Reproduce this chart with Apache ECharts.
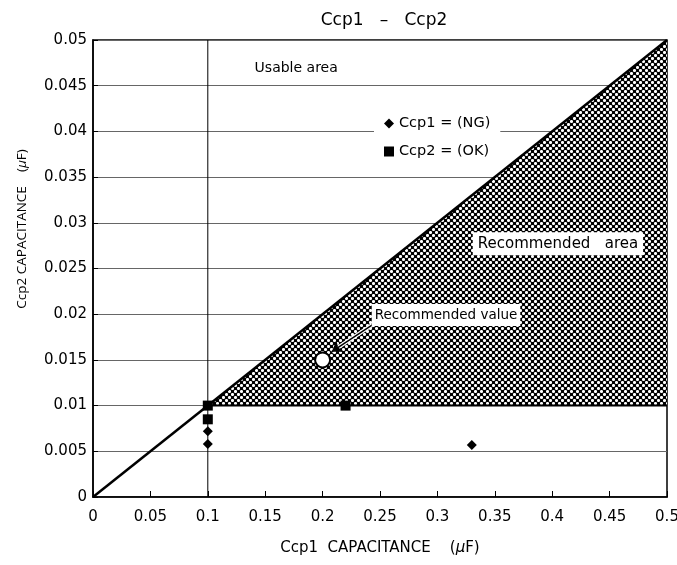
<!DOCTYPE html>
<html><head><meta charset="utf-8">
<script src="https://cdn.jsdelivr.net/npm/echarts@6/dist/echarts.min.js"></script>
<style>html,body{margin:0;padding:0;background:#fff}#c{width:677px;height:565px}</style>
</head><body><div id="c"></div>
<script>
var xTicks = [0,0.05,0.1,0.15,0.2,0.25,0.3,0.35,0.4,0.45,0.5];
var yTicks = [0,0.005,0.01,0.015,0.02,0.025,0.03,0.035,0.04,0.045,0.05];
var ngX = [0.1, 0.1, 0.33];
var ngY = [0.0072, 0.0058, 0.0057];
var okX = [0.1, 0.1, 0.22];
var okY = [0.01, 0.0085, 0.01];
var recValue = [0.2, 0.015];
var limitLineX = [0, 0.5];
var limitLineY = [0, 0.05];
var regionX = [0.1, 0.5, 0.5];
var regionY = [0.01, 0.05, 0.01];
var minCcp1 = 0.1;
var minCcp2 = 0.01;
var arrowFrom = [0.243, 0.0188];
var arrowTo = [0.208, 0.0159];

var WIDE = 'DejaVu Sans';
var NARROW = 'Open Sans';

// crosshatch pattern, pixel based
var P = 6;
var pc = document.createElement('canvas');
pc.width = P; pc.height = P;
var g = pc.getContext('2d');
var img = g.createImageData(P, P);
var centers = [[1,1],[4,4]];
for (var yy = 0; yy < P; yy++) for (var xx = 0; xx < P; xx++) {
  var c = 0;
  centers.forEach(function(cc){
    for (var ox = -P; ox <= P; ox += P) for (var oy = -P; oy <= P; oy += P) {
      var dx = Math.abs(xx - cc[0] - ox), dy = Math.abs(yy - cc[1] - oy);
      if (dx <= 1 && dy <= 1) {
        var v = (dx + dy <= 1) ? 255 : 170;
        if (v > c) c = v;
      }
    }
  });
  var k = (yy * P + xx) * 4;
  img.data[k] = img.data[k+1] = img.data[k+2] = c; img.data[k+3] = 255;
}
g.putImageData(img, 0, 0);

function fmt(v){ return String(+v.toFixed(3)); }

var chart = echarts.init(document.getElementById('c'));
chart.setOption({
  animation: false,
  title: { text: 'Ccp1   –   Ccp2', left: 379, textAlign: 'center', top: 7,
    textStyle: { fontFamily: WIDE, fontSize: 17, fontWeight: 'normal', color: '#000' } },
  grid: { left: 93, right: 10, top: 40, bottom: 68, outerBoundsMode: 'none', containLabel: false,
    show: true, borderColor: '#000', borderWidth: 1.5, backgroundColor: 'transparent' },
  legend: {
    orient: 'vertical', left: 374, top: 111, backgroundColor: '#fff', padding: [5,10,5,10],
    itemGap: 13, itemWidth: 10, itemHeight: 10,
    textStyle: { fontFamily: WIDE, fontSize: 14.5, color: '#000' },
    data: [{ name: 'Ccp1 = (NG)', icon: 'diamond' }, { name: 'Ccp2 = (OK)', icon: 'rect' }]
  },
  graphic: [{
    type: 'text', x: 22, y: 229, rotation: Math.PI / 2, z: 10,
    style: { text: 'Ccp2 CAPACITANCE    ({i|μ}F)', align: 'center', verticalAlign: 'middle',
      font: '13.5px "Open Sans"', fill: '#000',
      rich: { i: { fontStyle: 'italic', fontFamily: NARROW, fontSize: 13.5, color: '#000' } } }
  }],
  xAxis: {
    type: 'value', min: 0, max: 0.5, interval: 0.05,
    name: 'Ccp1  CAPACITANCE    ({i|μ}F)', nameLocation: 'middle', nameGap: 44,
    nameTextStyle: { fontFamily: WIDE, fontSize: 15, color: '#000',
      rich: { i: { fontStyle: 'italic', fontFamily: WIDE, fontSize: 15, color: '#000' } } },
    axisLine: { lineStyle: { color: '#000', width: 1.5 } },
    axisTick: { inside: true, length: 6, lineStyle: { color: '#000' } },
    axisLabel: { fontFamily: WIDE, fontSize: 15, color: '#000', margin: 13, formatter: fmt },
    splitLine: { show: false }
  },
  yAxis: {
    type: 'value', min: 0, max: 0.05, interval: 0.005,
    axisLine: { lineStyle: { color: '#000', width: 1.5 } },
    axisTick: { show: true, inside: true, length: 5, lineStyle: { color: '#000' } },
    axisLabel: { fontFamily: WIDE, fontSize: 15, color: '#000', margin: 6, formatter: fmt },
    splitLine: { show: true, lineStyle: { color: '#666', width: 1 } }
  },
  series: [
    { type: 'custom', name: 'region', z: 2, silent: true,
      data: [0],
      renderItem: function(params, api){
        var pts = regionX.map(function(x,i){ return api.coord([x, regionY[i]]); });
        return { type: 'polygon', shape: { points: pts },
          style: { fill: { image: pc, repeat: 'repeat' }, stroke: null } };
      }
    },
    { type: 'line', name: 'minx', z: 3, silent: true, symbol: 'none',
      data: [[minCcp1, 0], [minCcp1, 0.05]], lineStyle: { color: '#000', width: 1 } },
    { type: 'line', name: 'miny', z: 4, silent: true, symbol: 'none',
      data: [[minCcp1, minCcp2], [0.5, minCcp2]], lineStyle: { color: '#000', width: 2 } },
    { type: 'line', name: 'limit', z: 4, silent: true, symbol: 'none',
      data: limitLineX.map(function(x,i){ return [x, limitLineY[i]]; }), lineStyle: { color: '#000', width: 2.5 } },
    { type: 'lines', name: 'arrowHalo', coordinateSystem: 'cartesian2d', z: 5, silent: true,
      symbol: ['none', 'none'],
      data: [{ coords: [arrowFrom, arrowTo] }], lineStyle: { color: '#fff', width: 4, opacity: 1 } },
    { type: 'lines', name: 'arrow', coordinateSystem: 'cartesian2d', z: 6, silent: true,
      symbol: ['none', 'arrow'], symbolSize: 10,
      data: [{ coords: [arrowFrom, arrowTo] }], lineStyle: { color: '#000', width: 1.5, opacity: 1 } },
    { type: 'scatter', name: 'Ccp1 = (NG)', z: 6, symbol: 'diamond', symbolSize: 10,
      itemStyle: { color: '#000', opacity: 1 }, data: ngX.map(function(x,i){ return [x, ngY[i]]; }) },
    { type: 'scatter', name: 'Ccp2 = (OK)', z: 6, symbol: 'rect', symbolSize: 10,
      itemStyle: { color: '#000', opacity: 1 }, data: okX.map(function(x,i){ return [x, okY[i]]; }) },
    { type: 'scatter', name: 'rec', z: 7, symbol: 'circle', symbolSize: 15,
      itemStyle: { color: '#fff', borderColor: '#000', borderWidth: 2, opacity: 1 }, data: [recValue] },
    { type: 'scatter', name: 'labels', z: 8, symbolSize: 0, silent: true,
      itemStyle: { opacity: 1 },
      data: [
        { value: [0.177, 0.0469], label: { formatter: 'Usable area' } },
        { value: [0.405, 0.0277], label: { formatter: 'Recommended   area', fontSize: 15, backgroundColor: '#fff', padding: [4,5,4,5] } },
        { value: [0.3075, 0.0199], label: { formatter: 'Recommended value', fontSize: 13.5, backgroundColor: '#fff', padding: [4,3,4,3] } }
      ],
      label: { show: true, position: 'inside', fontFamily: WIDE, fontSize: 14, color: '#000' } }
  ]
});
</script></body></html>
